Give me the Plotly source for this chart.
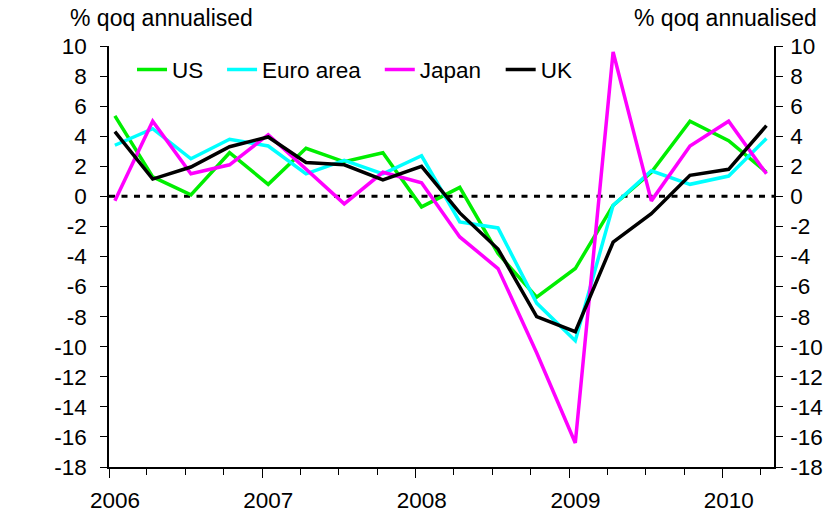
import plotly.graph_objects as go

quarters = ["2006-01-15", "2006-04-15", "2006-07-15", "2006-10-15",
            "2007-01-15", "2007-04-15", "2007-07-15", "2007-10-15",
            "2008-01-15", "2008-04-15", "2008-07-15", "2008-10-15",
            "2009-01-15", "2009-04-15", "2009-07-15", "2009-10-15",
            "2010-01-15", "2010-04-15"]
us = [5.35, 1.3, 0.1, 2.9, 0.8, 3.2, 2.3, 2.9, -0.7, 0.6, -3.8, -6.7, -4.8, -0.6, 1.6, 5.0, 3.7, 1.6]
euro = [3.4, 4.5, 2.5, 3.8, 3.35, 1.5, 2.4, 1.5, 2.7, -1.7, -2.1, -7.1, -9.6, -0.6, 1.7, 0.8, 1.35, 3.85]
japan = [-0.3, 5.0, 1.5, 2.1, 4.1, 1.8, -0.5, 1.6, 0.9, -2.7, -4.8, -10.4, -16.4, 9.6, -0.3, 3.35, 5.0, 1.5]
uk = [4.3, 1.15, 1.95, 3.3, 3.95, 2.25, 2.1, 1.1, 2.0, -1.1, -3.5, -8.0, -9.0, -3.05, -1.15, 1.4, 1.8, 4.7]

series_names = ["US", "Euro area", "Japan", "UK"]
series_values = [us, euro, japan, uk]
series_colors = ["#00ee00", "#00ffff", "#ff00ff", "#000000"]
legend_ids = ["legend", "legend2", "legend3", "legend4"]
legend_x = [0.0346, 0.170, 0.4072, 0.589]

year_ticks = ["2006-01-01", "2007-01-01", "2008-01-01", "2009-01-01", "2010-01-01"]
year_labels = ["2006", "2007", "2008", "2009", "2010"]
y_ticks = list(range(-18, 11, 2))
y_labels = [str(v) for v in y_ticks]  # ASCII hyphen-minus as in the original

FONT = "Liberation Sans, Arial, sans-serif"
FS = 22.5

fig = go.Figure()
for name, vals, col, lg in zip(series_names, series_values, series_colors, legend_ids):
    fig.add_trace(go.Scatter(x=quarters, y=vals, name=name, mode="lines",
                             line=dict(color=col, width=3.5), legend=lg))

# invisible trace for right axis
fig.add_trace(go.Scatter(x=quarters, y=uk, yaxis="y2", mode="lines",
                         line=dict(width=0), showlegend=False, hoverinfo="skip",
                         opacity=0))

fig.add_shape(type="line", xref="paper", x0=0, x1=1, yref="y", y0=0, y1=0,
              line=dict(color="black", width=3, dash="6px,6.5px"), layer="below")

legend_common = dict(orientation="h", yanchor="middle", y=0.943, xanchor="left",
                     font=dict(family=FONT, size=FS, color="black"),
                     bgcolor="rgba(0,0,0,0)", itemwidth=30, borderwidth=0)
legends = {}
for lg, lx in zip(legend_ids, legend_x):
    legends[lg] = dict(legend_common, x=lx)

yaxis_common = dict(range=[-18, 10], tickvals=y_ticks, ticktext=y_labels,
                    ticks="outside", ticklen=7, tickwidth=1.3, tickcolor="black",
                    showline=True, linecolor="black", linewidth=1.5,
                    showgrid=False, zeroline=False, automargin=False,
                    tickfont=dict(family=FONT, size=FS, color="black"))

fig.update_layout(
    width=827, height=513,
    margin=dict(l=109, r=52.5, t=45.7, b=46.4, autoexpand=False),
    paper_bgcolor="white", plot_bgcolor="white",
    font=dict(family=FONT, size=FS, color="black"),
    xaxis=dict(type="date", range=["2006-01-01", "2010-05-03"],
               tickvals=year_ticks, ticktext=year_labels,
               ticks="outside", ticklen=9, tickwidth=1.3, tickcolor="black",
               ticklabelshift=6, ticklabelstandoff=3,
               minor=dict(dtick="M3", tick0="2006-01-01", ticks="outside", ticklen=6,
                          tickwidth=1.3, tickcolor="black", showgrid=False),
               showline=True, linecolor="black", linewidth=1.5,
               showgrid=False, zeroline=False, automargin=False,
               tickfont=dict(family=FONT, size=FS, color="black")),
    yaxis=dict(yaxis_common, ticklabelstandoff=9),
    yaxis2=dict(yaxis_common, overlaying="y", side="right", ticklabelstandoff=3),
    annotations=[
        dict(text="% qoq annualised", xref="paper", yref="paper", x=-0.062, y=1.066,
             xanchor="left", yanchor="middle", showarrow=False,
             font=dict(family=FONT, size=23, color="black")),
        dict(text="% qoq annualised", xref="paper", yref="paper", x=1.068, y=1.066,
             xanchor="right", yanchor="middle", showarrow=False,
             font=dict(family=FONT, size=23, color="black")),
    ],
    **legends,
)

fig.write_html("out.html", config={"displayModeBar": False},
               post_script="document.body.style.margin='0';document.body.style.overflow='hidden';")
